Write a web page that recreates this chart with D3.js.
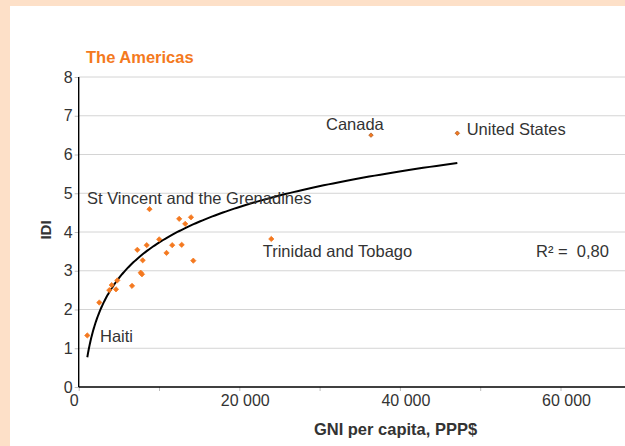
<!DOCTYPE html>
<html>
<head>
<meta charset="utf-8">
<script src="https://cdn.jsdelivr.net/npm/d3@7"></script>
<style>
  html, body { margin: 0; padding: 0; background: #FDE0C8; }
  svg { display: block; font-family: Arial, "Liberation Sans", Helvetica, sans-serif; }
</style>
</head>
<body>
<svg id="chart" width="625" height="446"></svg>
<script>
// ---- data ----
const gni = [1070, 2565, 3810, 4110, 4805, 4645, 6640, 7720, 7880, 7300, 7970, 8470,
             8815, 10025, 10935, 11645, 12515, 13265, 12825, 13985, 14270, 23985, 36400, 47150];
const idi = [1.33, 2.18, 2.50, 2.63, 2.75, 2.52, 2.61, 2.95, 2.91, 3.54, 3.27, 3.66,
             4.59, 3.81, 3.46, 3.66, 4.34, 4.21, 3.67, 4.38, 3.26, 3.82, 6.50, 6.55];
const names = ["Haiti", "", "", "", "", "", "", "", "", "", "", "",
               "St Vincent and the Grenadines", "", "", "", "", "", "", "", "", "Trinidad and Tobago", "Canada", "United States"];
const xTicks = [0, 10000, 20000, 30000, 40000, 50000, 60000];
const xTickLabels = ["0", "", "20 000", "", "40 000", "", "60 000"];
const yTicks = [0, 1, 2, 3, 4, 5, 6, 7, 8];
const yTickLabels = ["0", "1", "2", "3", "4", "5", "6", "7", "8"];
const title = "The Americas";
const xTitle = "GNI per capita, PPP$";
const yTitle = "IDI";
const r2Label = "R² =  0,80";

// ---- layout / style ----
const labelOffsets = {
  "Haiti": [12.7, 6.7],
  "St Vincent and the Grenadines": [-62.5, -5],
  "Trinidad and Tobago": [-8.6, 17.7],
  "Canada": [-45, -5.3],
  "United States": [9.4, 1.7]
};
const orange = "#F47920";
const textCol = "#333333";

const svg = d3.select("#chart");
svg.append("rect").attr("x", 10).attr("y", 6).attr("width", 615).attr("height", 440).attr("fill", "#ffffff");

const x = d3.scaleLinear().domain([0, 70000]).range([78.7, 640.8]);
const y = d3.scaleLinear().domain([0, 8]).range([387, 77]);

// gridlines
svg.append("g").selectAll("line").data(yTicks.filter(d => d > 0)).join("line")
  .attr("x1", x(0)).attr("x2", 625)
  .attr("y1", d => y(d)).attr("y2", d => y(d))
  .attr("stroke", "#d4d4d4").attr("stroke-width", 1);

// x axis
const xAxis = d3.axisBottom(x).tickValues(xTicks).tickSizeOuter(0).tickSize(4)
  .tickFormat((d, i) => xTickLabels[i]);
const gx = svg.append("g").attr("transform", `translate(0,${y(0)})`).call(xAxis);
gx.select(".domain").remove();
gx.selectAll(".tick line").attr("stroke", "#bdbdbd");
gx.selectAll(".tick text").attr("font-size", 16).attr("fill", textCol)
  .attr("font-family", "Arial, 'Liberation Sans', sans-serif")
  .attr("y", 8).attr("dy", "0.71em")
  .attr("dx", d => d === 0 ? -5 : 5.5);

// y axis
const yAxis = d3.axisLeft(y).tickValues(yTicks).tickSizeOuter(0).tickSize(4)
  .tickFormat((d, i) => yTickLabels[i]);
const gy = svg.append("g").attr("transform", `translate(${x(0)},0)`).call(yAxis);
gy.select(".domain").remove();
gy.selectAll(".tick line").attr("stroke", "#bdbdbd");
gy.selectAll(".tick text").attr("font-size", 16).attr("fill", textCol)
  .attr("font-family", "Arial, 'Liberation Sans', sans-serif")
  .attr("x", -6).attr("dy", "0.32em");

// axis lines
svg.append("line").attr("x1", x(0)).attr("x2", 625).attr("y1", y(0)).attr("y2", y(0))
  .attr("stroke", "#000").attr("stroke-width", 1.4);
svg.append("line").attr("x1", x(0)).attr("x2", x(0)).attr("y1", y(8)).attr("y2", y(0))
  .attr("stroke", "#000").attr("stroke-width", 1.4);

// logarithmic trend line fitted to the data
const pts = gni.map((g, i) => [g, idi[i]]);
const Ls = pts.map(p => Math.log(p[0]));
const mL = d3.mean(Ls), mY = d3.mean(idi);
const b = d3.sum(Ls.map((l, i) => (l - mL) * (idi[i] - mY))) / d3.sum(Ls.map(l => (l - mL) ** 2));
const a = mY - b * mL;
const [xmin, xmax] = d3.extent(gni);
const trend = d3.range(0, 201).map(k => {
  const g = xmin * Math.pow(xmax / xmin, k / 200);
  return [g, a + b * Math.log(g)];
});
svg.append("path").datum(trend)
  .attr("d", d3.line().x(d => x(d[0])).y(d => y(d[1])))
  .attr("fill", "none").attr("stroke", "#000").attr("stroke-width", 2);

// points (small rotated squares)
svg.append("g").selectAll("path").data(pts).join("path")
  .attr("transform", d => `translate(${x(d[0])},${y(d[1])}) rotate(45)`)
  .attr("d", (d, i) => d3.symbol().type(d3.symbolSquare).size(i >= 22 ? 10 : 14)())
  .attr("fill", orange)
  .attr("stroke", (d, i) => i >= 22 ? "#a8561c" : orange).attr("stroke-width", 0.7);

// point labels
svg.append("g").selectAll("text").data(pts.map((p, i) => ({p, name: names[i]})).filter(d => d.name))
  .join("text")
  .attr("x", d => x(d.p[0]) + labelOffsets[d.name][0])
  .attr("y", d => y(d.p[1]) + labelOffsets[d.name][1])
  .attr("font-size", 16.5).attr("fill", textCol)
  .text(d => d.name);

// R²
svg.append("text").attr("x", 536).attr("y", 257).attr("font-size", 16.5).attr("fill", textCol)
  .style("white-space", "pre").text(r2Label);

// titles
svg.append("text").attr("x", 86).attr("y", 63).attr("font-size", 16.5).attr("font-weight", "bold")
  .attr("fill", orange).text(title);
svg.append("text").attr("x", 395.5).attr("y", 435).attr("text-anchor", "middle")
  .attr("font-size", 16.5).attr("font-weight", "bold").attr("fill", textCol).text(xTitle);
svg.append("text").attr("transform", `translate(51,230) rotate(-90)`).attr("text-anchor", "middle")
  .attr("font-size", 15).attr("font-weight", "bold").attr("fill", textCol).text(yTitle);
</script>
</body>
</html>
